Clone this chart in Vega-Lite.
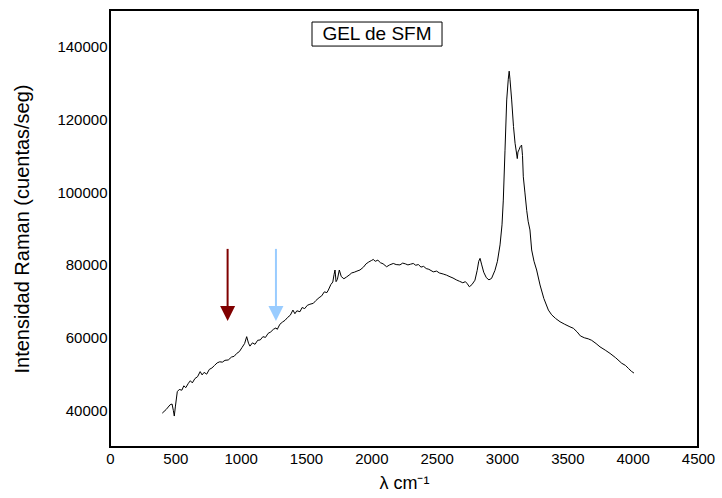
{
  "$schema": "https://vega.github.io/schema/vega-lite/v6.json",
  "width": 588,
  "height": 437,
  "autosize": {"type": "none"},
  "padding": {"left": 110, "top": 10, "right": 24, "bottom": 51},
  "background": "white",
  "config": {
    "view": {"stroke": "black", "strokeWidth": 2},
    "font": "Liberation Sans",
    "axis": {"labelFont": "Liberation Sans", "titleFont": "Liberation Sans", "labelColor": "black", "titleColor": "black", "titleFontWeight": "normal", "grid": false, "ticks": false, "domain": false}
  },
  "datasets": {
    "spectrum": [
      {"w": 400, "i": 39300}, {"w": 430, "i": 40300}, {"w": 460, "i": 41600}, {"w": 475, "i": 41800},
      {"w": 485, "i": 40000}, {"w": 492, "i": 38500}, {"w": 500, "i": 41000}, {"w": 515, "i": 45200},
      {"w": 530, "i": 45800}, {"w": 550, "i": 45600}, {"w": 565, "i": 46800}, {"w": 580, "i": 46300},
      {"w": 600, "i": 47500}, {"w": 615, "i": 48200}, {"w": 630, "i": 47600}, {"w": 650, "i": 48800},
      {"w": 670, "i": 49300}, {"w": 690, "i": 50700}, {"w": 705, "i": 49800}, {"w": 720, "i": 50500},
      {"w": 740, "i": 50000}, {"w": 760, "i": 51300}, {"w": 780, "i": 51700}, {"w": 800, "i": 52400},
      {"w": 820, "i": 53100}, {"w": 840, "i": 53400}, {"w": 860, "i": 53300}, {"w": 880, "i": 53800},
      {"w": 905, "i": 53900}, {"w": 930, "i": 54700}, {"w": 950, "i": 54900}, {"w": 970, "i": 55700},
      {"w": 990, "i": 56200}, {"w": 1010, "i": 57300}, {"w": 1030, "i": 58400}, {"w": 1046, "i": 60300},
      {"w": 1060, "i": 58500}, {"w": 1071, "i": 57700}, {"w": 1090, "i": 58600}, {"w": 1110, "i": 58200},
      {"w": 1130, "i": 59300}, {"w": 1150, "i": 59400}, {"w": 1170, "i": 60300}, {"w": 1190, "i": 60100},
      {"w": 1210, "i": 61200}, {"w": 1230, "i": 61600}, {"w": 1250, "i": 62300}, {"w": 1270, "i": 62700},
      {"w": 1280, "i": 62300}, {"w": 1300, "i": 63700}, {"w": 1320, "i": 64300}, {"w": 1340, "i": 64800},
      {"w": 1360, "i": 65600}, {"w": 1380, "i": 66200}, {"w": 1400, "i": 67600}, {"w": 1415, "i": 66600},
      {"w": 1430, "i": 67400}, {"w": 1454, "i": 67150}, {"w": 1470, "i": 68300}, {"w": 1490, "i": 68000},
      {"w": 1510, "i": 68900}, {"w": 1530, "i": 69200}, {"w": 1556, "i": 69450}, {"w": 1575, "i": 70200},
      {"w": 1600, "i": 71000}, {"w": 1620, "i": 71500}, {"w": 1640, "i": 72600}, {"w": 1660, "i": 72400},
      {"w": 1671, "i": 73100}, {"w": 1690, "i": 74600}, {"w": 1705, "i": 75300}, {"w": 1715, "i": 77400},
      {"w": 1722, "i": 78600}, {"w": 1730, "i": 75400}, {"w": 1740, "i": 76000}, {"w": 1755, "i": 78600},
      {"w": 1770, "i": 76800}, {"w": 1790, "i": 76200}, {"w": 1811, "i": 76700}, {"w": 1830, "i": 77200},
      {"w": 1850, "i": 77800}, {"w": 1870, "i": 78000}, {"w": 1890, "i": 78300}, {"w": 1913, "i": 78600},
      {"w": 1940, "i": 79400}, {"w": 1960, "i": 80300}, {"w": 1980, "i": 80800}, {"w": 2000, "i": 81200},
      {"w": 2015, "i": 81500}, {"w": 2030, "i": 81000}, {"w": 2050, "i": 81300}, {"w": 2070, "i": 80600},
      {"w": 2090, "i": 80300}, {"w": 2117, "i": 79500}, {"w": 2140, "i": 80000}, {"w": 2168, "i": 80400},
      {"w": 2190, "i": 80100}, {"w": 2219, "i": 80000}, {"w": 2240, "i": 80500}, {"w": 2260, "i": 80300},
      {"w": 2280, "i": 80000}, {"w": 2300, "i": 80200}, {"w": 2321, "i": 80400}, {"w": 2340, "i": 79900},
      {"w": 2360, "i": 80100}, {"w": 2380, "i": 79400}, {"w": 2400, "i": 79600}, {"w": 2420, "i": 79000},
      {"w": 2440, "i": 78800}, {"w": 2474, "i": 78100}, {"w": 2500, "i": 78300}, {"w": 2520, "i": 77800},
      {"w": 2550, "i": 77500}, {"w": 2575, "i": 77200}, {"w": 2602, "i": 76750}, {"w": 2625, "i": 76400},
      {"w": 2650, "i": 75900}, {"w": 2675, "i": 75500}, {"w": 2700, "i": 75100}, {"w": 2720, "i": 75400},
      {"w": 2735, "i": 74800}, {"w": 2750, "i": 74000}, {"w": 2770, "i": 74600}, {"w": 2793, "i": 75800},
      {"w": 2810, "i": 78500}, {"w": 2822, "i": 81000}, {"w": 2832, "i": 81800}, {"w": 2845, "i": 80000},
      {"w": 2860, "i": 78000}, {"w": 2880, "i": 76500}, {"w": 2900, "i": 75900}, {"w": 2920, "i": 76300},
      {"w": 2946, "i": 78500}, {"w": 2965, "i": 81000}, {"w": 2985, "i": 85500}, {"w": 3000, "i": 91000},
      {"w": 3010, "i": 97800}, {"w": 3023, "i": 111500}, {"w": 3036, "i": 125300}, {"w": 3048, "i": 131000},
      {"w": 3055, "i": 133200}, {"w": 3061, "i": 131000}, {"w": 3074, "i": 125300}, {"w": 3088, "i": 118000},
      {"w": 3100, "i": 113400}, {"w": 3110, "i": 111000}, {"w": 3117, "i": 109200}, {"w": 3122, "i": 111000},
      {"w": 3130, "i": 111600}, {"w": 3140, "i": 112500}, {"w": 3150, "i": 112900}, {"w": 3157, "i": 110000},
      {"w": 3163, "i": 104200}, {"w": 3175, "i": 100000}, {"w": 3189, "i": 95000}, {"w": 3200, "i": 92000},
      {"w": 3214, "i": 89600}, {"w": 3227, "i": 84100}, {"w": 3245, "i": 81000}, {"w": 3265, "i": 78600},
      {"w": 3291, "i": 74500}, {"w": 3320, "i": 70800}, {"w": 3355, "i": 67600}, {"w": 3380, "i": 66300},
      {"w": 3410, "i": 65300}, {"w": 3444, "i": 64400}, {"w": 3480, "i": 63700}, {"w": 3520, "i": 63000},
      {"w": 3546, "i": 62600}, {"w": 3575, "i": 61600}, {"w": 3600, "i": 60500}, {"w": 3630, "i": 60000},
      {"w": 3660, "i": 59700}, {"w": 3686, "i": 59300}, {"w": 3720, "i": 58400}, {"w": 3750, "i": 57500},
      {"w": 3790, "i": 56600}, {"w": 3827, "i": 55700}, {"w": 3870, "i": 54500}, {"w": 3916, "i": 53000},
      {"w": 3945, "i": 52400}, {"w": 3967, "i": 51600}, {"w": 3990, "i": 50800}, {"w": 4010, "i": 50300}
    ],
    "arrows": [
      {"w": 900, "top": 84400, "base": 68700, "head": 66650, "kind": "rojo"},
      {"w": 1270, "top": 84400, "base": 68700, "head": 66650, "kind": "azul"}
    ],
    "label": [
      {"x1": 1546, "x2": 2541, "y1": 140100, "y2": 146700, "xc": 2043, "yc": 143400, "text": "GEL de SFM"}
    ]
  },
  "layer": [
    {
      "data": {"name": "spectrum"},
      "mark": {"type": "line", "color": "black", "strokeWidth": 1},
      "encoding": {
        "x": {
          "field": "w", "type": "quantitative",
          "scale": {"domain": [0, 4500], "nice": false, "zero": false},
          "axis": {"values": [0, 500, 1000, 1500, 2000, 2500, 3000, 3500, 4000, 4500], "format": "d", "labelFontSize": 15, "labelPadding": 4, "title": "λ cm⁻¹", "titleFontSize": 18, "titlePadding": 8, "labelFlush": false, "labelOverlap": false}
        },
        "y": {
          "field": "i", "type": "quantitative",
          "scale": {"domain": [30000, 150000], "nice": false, "zero": false},
          "axis": {"values": [40000, 60000, 80000, 100000, 120000, 140000], "labelFontSize": 15, "labelPadding": 3, "format": "d", "title": "Intensidad Raman (cuentas/seg)", "titleFontSize": 20, "titlePadding": 24}
        }
      }
    },
    {
      "data": {"name": "arrows"},
      "mark": {"type": "rule", "strokeWidth": 2},
      "encoding": {
        "x": {"field": "w", "type": "quantitative"},
        "y": {"field": "top", "type": "quantitative"},
        "y2": {"field": "base"},
        "color": {"field": "kind", "type": "nominal", "scale": {"domain": ["rojo", "azul"], "range": ["#800000", "#99CCFF"]}, "legend": null}
      }
    },
    {
      "data": {"name": "arrows"},
      "mark": {"type": "point", "shape": "M-1,-1L1,-1L0,1Z", "filled": true, "opacity": 1, "size": 225, "strokeWidth": 0},
      "encoding": {
        "x": {"field": "w", "type": "quantitative"},
        "y": {"field": "head", "type": "quantitative"},
        "color": {"field": "kind", "type": "nominal", "scale": {"domain": ["rojo", "azul"], "range": ["#800000", "#99CCFF"]}, "legend": null}
      }
    },
    {
      "data": {"name": "label"},
      "mark": {"type": "rect", "fill": "white", "stroke": "black", "strokeWidth": 1},
      "encoding": {
        "x": {"field": "x1", "type": "quantitative"},
        "x2": {"field": "x2"},
        "y": {"field": "y1", "type": "quantitative"},
        "y2": {"field": "y2"}
      }
    },
    {
      "data": {"name": "label"},
      "mark": {"type": "text", "fontSize": 19, "font": "Liberation Sans", "color": "black", "align": "center", "baseline": "middle"},
      "encoding": {
        "x": {"field": "xc", "type": "quantitative"},
        "y": {"field": "yc", "type": "quantitative"},
        "text": {"field": "text"}
      }
    }
  ]
}
